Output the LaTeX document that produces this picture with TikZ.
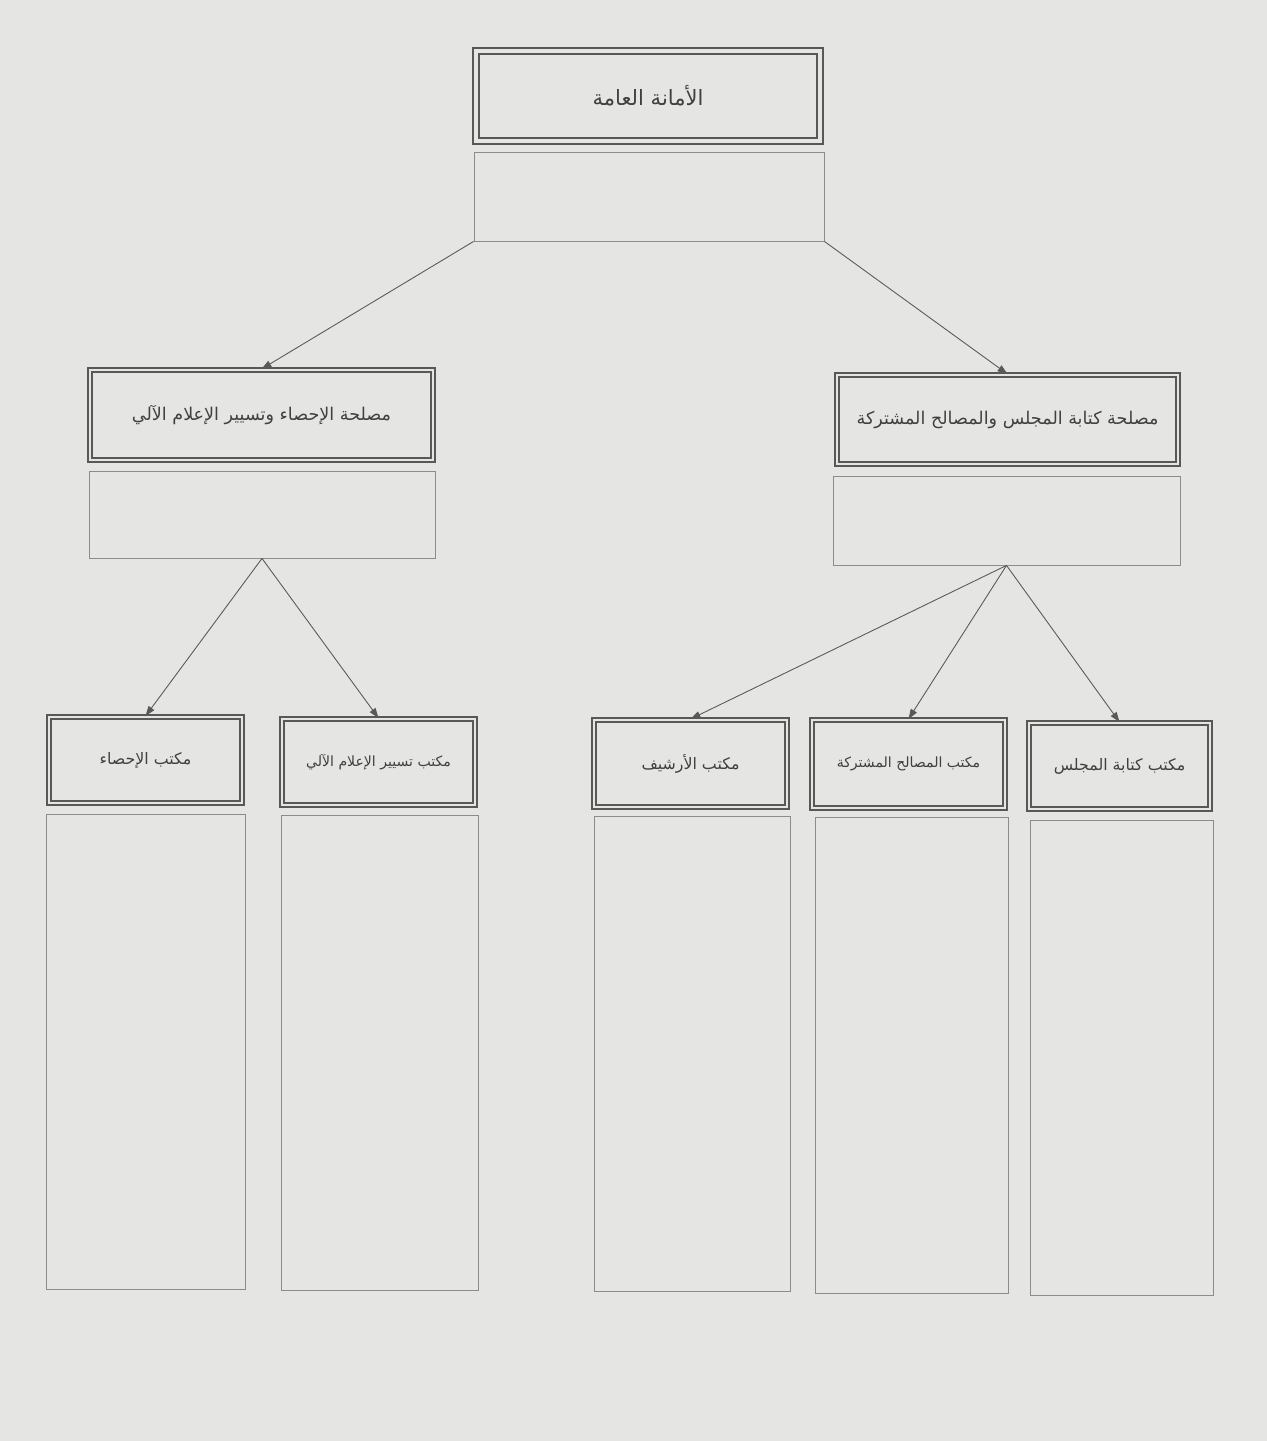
\documentclass[tikz,border=0pt]{standalone}
\usepackage{fontspec}
\newfontfamily\arabicfont[Script=Arabic]{DejaVu Sans}
\TeXXeTstate=1
\usetikzlibrary{arrows.meta}
\definecolor{paper}{RGB}{229,229,227}
\definecolor{ink}{RGB}{88,88,88}
\newcommand{\artext}[1]{\beginR #1\endR}

\begin{document}
\begin{tikzpicture}[
  x=0.02cm, y=-0.02cm,
  every node/.style={font=\arabicfont, text=black!75},
  topbox/.style={draw=ink, double=paper, line width=1pt, double distance=2.6pt,
                 inner sep=0pt},
  head/.style={draw=ink, double=paper, line width=1.1pt, double distance=1.1pt,
               inner sep=0pt},
  panel/.style={draw=black!45, line width=.5pt, inner sep=0pt},
  link/.style={draw=black!65, line width=.5pt,
               -{Triangle[length=2mm,width=1.4mm]}}
]
\fill[paper] (0,0) rectangle (1267,1441);
\useasboundingbox (0,0) rectangle (1267,1441);

% top
\node[topbox, minimum width=6.88cm, minimum height=1.8cm, font=\arabicfont\large]
  (t) at (648,96) {\artext{الأمانة العامة}};
\node[panel, minimum width=7cm, minimum height=1.78cm] (tp) at (649,196.5) {};

% middle
\node[head, minimum width=6.86cm, minimum height=1.8cm] (l) at (261.5,415)
  {\artext{مصلحة الإحصاء وتسيير الإعلام الآلي}};
\node[panel, minimum width=6.92cm, minimum height=1.74cm] (lp) at (262,514.5) {};
\node[head, minimum width=6.82cm, minimum height=1.78cm] (r) at (1007.5,419.5)
  {\artext{مصلحة كتابة المجلس والمصالح المشتركة}};
\node[panel, minimum width=6.94cm, minimum height=1.78cm] (rp) at (1006.5,520.5) {};

% offices
\node[head, minimum width=3.86cm, minimum height=1.72cm, font=\arabicfont\small]
  (b1) at (145.5,760) {\artext{مكتب الإحصاء}};
\node[head, minimum width=3.86cm, minimum height=1.72cm, font=\arabicfont\footnotesize]
  (b2) at (378.5,762) {\artext{مكتب تسيير الإعلام الآلي}};
\node[head, minimum width=3.86cm, minimum height=1.74cm, font=\arabicfont\small]
  (b3) at (690.5,763.5) {\artext{مكتب الأرشيف}};
\node[head, minimum width=3.86cm, minimum height=1.76cm, font=\arabicfont\footnotesize]
  (b4) at (908.5,764) {\artext{مكتب المصالح المشتركة}};
\node[head, minimum width=3.62cm, minimum height=1.72cm, font=\arabicfont\small]
  (b5) at (1119.5,766) {\artext{مكتب كتابة المجلس}};

\node[panel, minimum width=3.98cm, minimum height=9.5cm] (p1) at (145.5,1051.5) {};
\node[panel, minimum width=3.94cm, minimum height=9.5cm] (p2) at (379.5,1052.5) {};
\node[panel, minimum width=3.92cm, minimum height=9.5cm] (p3) at (692,1053.5) {};
\node[panel, minimum width=3.86cm, minimum height=9.52cm] (p4) at (911.5,1055) {};
\node[panel, minimum width=3.66cm, minimum height=9.5cm] (p5) at (1121.5,1057.5) {};

\draw[link] (tp.south west) -- (l.north);
\draw[link] (tp.south east) -- (r.north);
\draw[link] (lp.south) -- (b1.north);
\draw[link] (lp.south) -- (b2.north);
\draw[link] (rp.south) -- (b3.north);
\draw[link] (rp.south) -- (b4.north);
\draw[link] (rp.south) -- (b5.north);
\end{tikzpicture}
\end{document}
